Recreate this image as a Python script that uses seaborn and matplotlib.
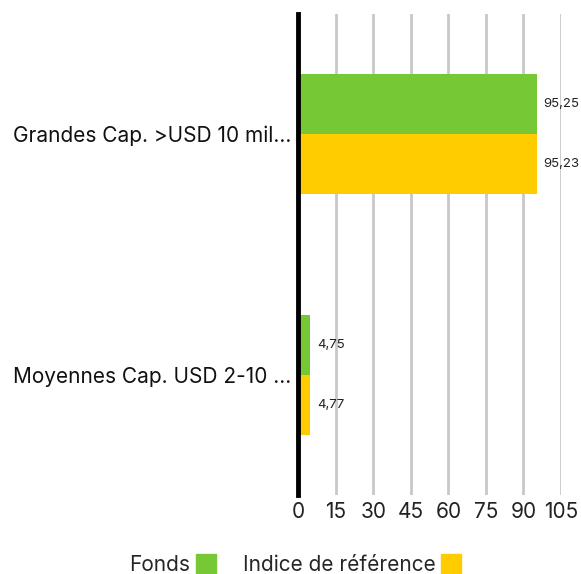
import matplotlib
matplotlib.use("Agg")
import matplotlib.pyplot as plt
import seaborn as sns
import pandas as pd
from matplotlib.lines import Line2D

categories = ["Grandes Cap. >USD 10 mil...", "Moyennes Cap. USD 2-10 ..."]
series_names = ["Fonds", "Indice de référence"]
fonds = [95.25, 4.75]
indice = [95.23, 4.77]
value_labels_fonds = ["95,25", "4,75"]
value_labels_indice = ["95,23", "4,77"]
xticks = [0, 15, 30, 45, 60, 75, 90, 105]
colors = ["#76c934", "#ffcc00"]

df = pd.DataFrame({
    "cat": categories * 2,
    "serie": [series_names[0]] * 2 + [series_names[1]] * 2,
    "val": fonds + indice,
})

sns.set_style("white")
plt.rcParams["font.family"] = ["Inter", "DejaVu Sans"]

fig = plt.figure(figsize=(5.81, 5.74), dpi=100)
W, H = 581, 574
x0, x1 = 298.3, 561
ytop, ybot = 14, 495
ax = fig.add_axes([x0 / W, 1 - ybot / H, (x1 - x0) / W, (ybot - ytop) / H])

sns.barplot(data=df, y="cat", x="val", hue="serie", palette=colors,
            width=0.5, dodge=True, ax=ax, legend=False, saturation=1,
            edgecolor="none")

ax.set_xlim(0, 105)
ax.set_ylim(1.5, -0.5)
ax.set_xticks(xticks)
ax.set_xticklabels([str(t) for t in xticks], fontsize=15, color="#222222")
ax.tick_params(axis="x", length=0, pad=5)
ax.tick_params(axis="y", length=0, pad=5)
ax.set_yticks(range(len(categories)))
ax.set_yticklabels(categories, fontsize=15, color="#111111")
ax.set_xlabel("")
ax.set_ylabel("")
ax.xaxis.grid(True, color="#c8c8c8", linewidth=2)
ax.set_axisbelow(True)
for s in ["top", "right", "bottom"]:
    ax.spines[s].set_visible(False)
ax.spines["left"].set_color("black")
ax.spines["left"].set_linewidth(3.5)

# value labels
containers = ax.containers
labels = [value_labels_fonds, value_labels_indice]
for cont, labs in zip(containers, labels):
    for bar, lab in zip(cont, labs):
        ax.annotate(lab, (bar.get_width(), bar.get_y() + bar.get_height() / 2),
                    xytext=(5, 0), textcoords="offset points", va="center",
                    ha="left", fontsize=9.5, color="#222222", annotation_clip=False)

handles = [Line2D([], [], marker="s", linestyle="none", markersize=14,
                  markerfacecolor=c, markeredgecolor=c) for c in colors]
fig.legend(handles, series_names, loc="center", bbox_to_anchor=(296 / W, 1 - 565 / H),
           ncol=2, frameon=False, markerfirst=False, fontsize=15,
           handletextpad=0.2, columnspacing=1.2, handlelength=1.1)

fig.savefig("out.png", dpi=100)
